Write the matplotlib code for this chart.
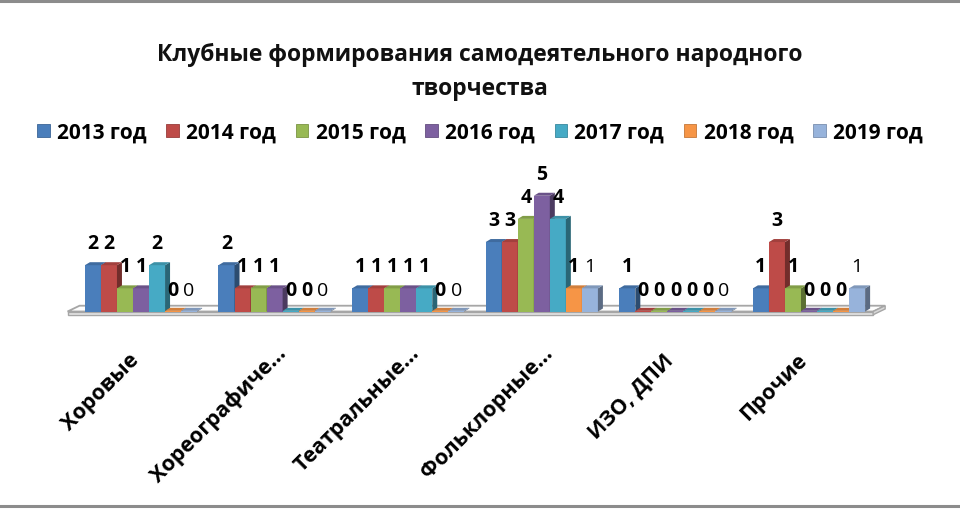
import matplotlib
matplotlib.use('Agg')
import matplotlib.pyplot as plt
from matplotlib.patches import Polygon, Patch
from matplotlib.lines import Line2D
from matplotlib.colors import to_rgb

plt.rcParams['font.family'] = ['Open Sans', 'DejaVu Sans']

# ---------------- data ----------------
categories = ['Хоровые', 'Хореографические', 'Театральные', 'Фольклорные', 'ИЗО, ДПИ', 'Прочие']
tick_labels = ['Хоровые', 'Хореографиче…', 'Театральные…', 'Фольклорные…', 'ИЗО, ДПИ', 'Прочие']
series_names = ['2013 год', '2014 год', '2015 год', '2016 год', '2017 год', '2018 год', '2019 год']
v2013 = [2, 2, 1, 3, 1, 1]
v2014 = [2, 1, 1, 3, 0, 3]
v2015 = [1, 1, 1, 4, 0, 1]
v2016 = [1, 1, 1, 5, 0, 0]
v2017 = [2, 0, 1, 4, 0, 0]
v2018 = [0, 0, 0, 1, 0, 0]
v2019 = [0, 0, 0, 1, 0, 1]
series_values = [v2013, v2014, v2015, v2016, v2017, v2018, v2019]
colors = ['#4A7EBB', '#BE4B48', '#98B954', '#7D60A0', '#46AAC5', '#F69546', '#97B3DB']
title_lines = ['Клубные формирования самодеятельного народного', 'творчества']

# ---------------- layout ----------------
W, H = 960, 510
fig = plt.figure(figsize=(W / 100, H / 100), dpi=100)
ax = fig.add_axes([0, 0, 1, 1])
px_cat = 133.6      # pixels per category
px_val = 23.15      # pixels per unit value
cat0_px = 141.0     # x pixel of first category centre
base_px = 312.5     # y pixel (from top) of baseline
ax.set_xlim(-cat0_px / px_cat, (W - cat0_px) / px_cat)
ax.set_ylim(-(H - base_px) / px_val, base_px / px_val)
ax.axis('off')

n_cat = len(categories)
n_ser = len(series_values)
group_w = 0.84
bw = group_w / n_ser
ddx = 5 / px_cat     # depth offset x
ddy = 3 / px_val     # depth offset y


def shade(c, f):
    r, g, b = to_rgb(c)
    return (r * f, g * f, b * f)


# floor
fl, fr = -0.55, (n_cat - 1) + 0.48
back = 0.25
slab = -0.14
floor_top = Polygon([(fl, 0), (fr, 0), (fr + 0.09, back), (fl + 0.09, back)],
                    closed=True, facecolor='#FDFDFD', edgecolor='#A6A6A6', lw=1.3, zorder=1)
floor_front = Polygon([(fl, slab), (fr, slab), (fr, 0), (fl, 0)],
                      closed=True, facecolor='#E6E6E6', edgecolor='#A6A6A6', lw=1.0, zorder=1)
floor_side = Polygon([(fr, slab), (fr + 0.09, slab + back), (fr + 0.09, back), (fr, 0)],
                     closed=True, facecolor='#D8D8D8', edgecolor='#A6A6A6', lw=1.0, zorder=1)
for p in (floor_top, floor_front, floor_side):
    ax.add_patch(p)

# bars with pseudo-3D faces
z = 2
for i in range(n_cat):
    for j in range(n_ser):
        v = series_values[j][i]
        c = colors[j]
        x0 = i - group_w / 2 + j * bw
        x1 = x0 + bw
        h = v if v > 0 else 0.03
        ax.bar(x0, h, width=bw, bottom=0, align='edge', color=c,
               edgecolor='none', zorder=z)
        top = Polygon([(x0, h), (x1, h), (x1 + ddx, h + ddy), (x0 + ddx, h + ddy)],
                      closed=True, facecolor=shade(c, 0.85), edgecolor='none', zorder=z)
        side = Polygon([(x1, 0), (x1 + ddx, ddy), (x1 + ddx, h + ddy), (x1, h)],
                       closed=True, facecolor=shade(c, 0.6), edgecolor='none', zorder=z)
        ax.add_patch(side)
        ax.add_patch(top)
        z += 1
        ax.text(x0 + bw / 2, v + 17 / px_val, str(v), ha='center', va='baseline',
                fontsize=14, fontweight='bold' if j < n_ser - 1 else 'normal',
                color='black', zorder=100)

# category labels (truncated labels sit a little further right, as in the source)
for i, lab in enumerate(tick_labels):
    trunc = lab.endswith('…')
    xoff = 0.06 if trunc else -0.04
    yoff = -38 / px_val if trunc else -45 / px_val
    ax.text(i + xoff, yoff, lab, rotation=45, rotation_mode='anchor',
            ha='right', va='center', fontsize=15.5, fontweight='bold', color='black')

# title
for k, line in enumerate(title_lines):
    fig.text(0.5, 1 - (55 + 34 * k) / H, line, ha='center', va='center',
             fontsize=16.5, fontweight='bold', color='#111111')

# legend
handles = [Patch(facecolor=c, edgecolor=shade(c, 0.8), lw=0.6) for c in colors]
fig.legend(handles, series_names, ncol=n_ser, loc='center',
           bbox_to_anchor=(0.5, 1 - 133 / H), frameon=False,
           prop={'size': 15, 'weight': 'bold'}, handlelength=0.6, handleheight=0.6,
           handletextpad=0.35, columnspacing=0.95, borderaxespad=0)

# chart-area border lines
fig.add_artist(Line2D([0, 1], [1 - 2 / H, 1 - 2 / H], transform=fig.transFigure,
                      color='#8C8C8C', lw=2.2))
fig.add_artist(Line2D([0, 1], [3 / H, 3 / H], transform=fig.transFigure,
                      color='#8C8C8C', lw=2.2))

fig.savefig('out.png', dpi=100)
